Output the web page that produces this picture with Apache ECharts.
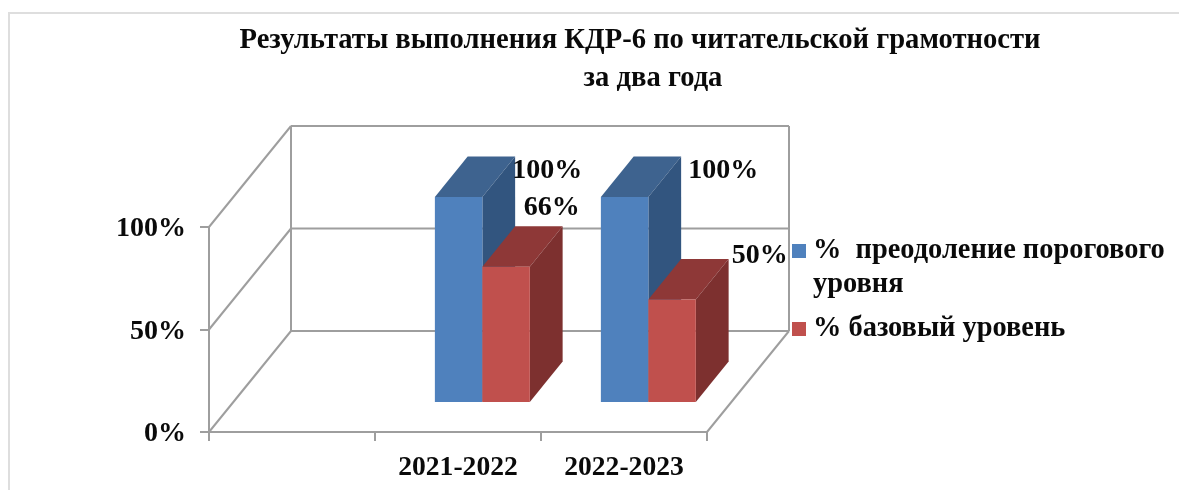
<!DOCTYPE html>
<html>
<head>
<meta charset="utf-8">
<style>html,body{margin:0;padding:0;background:#fff}#c{width:1179px;height:490px}</style>
<script src="https://cdn.jsdelivr.net/npm/echarts@6/dist/echarts.min.js"></script>
</head>
<body>
<div id="c"></div>
<script>
const titleLines = ['Результаты выполнения КДР-6 по читательской грамотности', 'за два года'];
const categories = ['', '2021-2022', '2022-2023'];
const seriesNames = ['%  преодоление порогового\nуровня', '% базовый уровень'];
const thresholdValues = [null, 100, 100];
const basicValues = [null, 66, 50];
const yTicks = [0, 50, 100];

// Presentation settings (not data)
const FONT = '"Liberation Serif","Times New Roman",serif';
const LABEL_SIZE = 28;
const GRID_COLOR = '#9e9e9e';
const WALL_DX = 82, WALL_DY = -101;
const BAR_POS = 0.297;       // bar's front face position along the floor depth
const BAR_DEPTH = 0.4;       // bar's depth as a share of the floor depth
const BAR_SHARE = 0.286;     // bar's width as a share of a category
const thresholdLabelShift = [null, [65, -26], [75, -26]];
const basicLabelShift = [null, [22, -59], [64, -44]];

function rows(values) { return categories.map((c, i) => [i, values[i] === null ? '-' : values[i]]); }

function wallItem(params, api) {
  const g = params.coordSys;
  const y = api.coord([0, api.value(1)])[1];
  const style = { stroke: GRID_COLOR, lineWidth: 2, fill: null };
  const line = (x1, y1, x2, y2) => ({ type: 'line', shape: { x1, y1, x2, y2 }, style });
  const left = g.x, right = g.x + g.width, v = api.value(1);
  const children = [
    line(left, y, left + WALL_DX, y + WALL_DY),
    line(left + WALL_DX, y + WALL_DY, right + WALL_DX, y + WALL_DY)
  ];
  if (v === yTicks[0]) {
    children.push(line(right, y, right + WALL_DX, y + WALL_DY));
    children.push(line(left + WALL_DX, y + WALL_DY, left + WALL_DX, y + WALL_DY - g.height));
    children.push(line(right + WALL_DX, y + WALL_DY, right + WALL_DX, y + WALL_DY - g.height));
  }
  return { type: 'group', children };
}

function barRenderer(slot, front, top, side, labelShift) {
  return function (params, api) {
    const value = api.value(1);
    if (isNaN(value)) return null;
    const idx = api.value(0);
    const w = api.size([1, 0])[0] * BAR_SHARE;
    const base = api.coord([idx, 0]);
    const peak = api.coord([idx, value]);
    const ox = WALL_DX * BAR_POS, oy = WALL_DY * BAR_POS;
    const dx = WALL_DX * BAR_DEPTH, dy = WALL_DY * BAR_DEPTH;
    const x0 = base[0] + ox + slot * w, x1 = x0 + w;
    const yb = base[1] + oy, yt = peak[1] + oy;
    const poly = (points, fill) => ({ type: 'polygon', shape: { points }, style: { fill } });
    const shift = labelShift[idx];
    return {
      type: 'group',
      children: [
        poly([[x0, yt], [x1, yt], [x1 + dx, yt + dy], [x0 + dx, yt + dy]], top),
        poly([[x1, yb], [x1 + dx, yb + dy], [x1 + dx, yt + dy], [x1, yt]], side),
        { type: 'rect', shape: { x: x0, y: yt, width: w, height: yb - yt }, style: { fill: front } },
        {
          type: 'text', x: x1 + shift[0], y: yt + shift[1],
          style: {
            text: value + '%', fill: '#0a0a0a', align: 'center', verticalAlign: 'middle',
            font: 'bold ' + LABEL_SIZE + 'px ' + FONT
          }
        }
      ]
    };
  };
}

const legendText = { fontFamily: FONT, fontWeight: 'bold', fontSize: 28.4, color: '#0a0a0a', lineHeight: 34, padding: [0, 0, 0, 2] };

const chart = echarts.init(document.getElementById('c'));
chart.setOption({
  animation: false,
  backgroundColor: '#ffffff',
  title: [
    { text: titleLines[0], left: 635, top: 21, textAlign: 'center',
      textStyle: { fontFamily: FONT, fontWeight: 'bold', fontSize: 28.6, color: '#0a0a0a' } },
    { text: titleLines[1], left: 648, top: 59, textAlign: 'center',
      textStyle: { fontFamily: FONT, fontWeight: 'bold', fontSize: 28.6, color: '#0a0a0a' } }
  ],
  grid: { left: 209, top: 227, width: 498, height: 205 },
  xAxis: {
    type: 'category', data: categories,
    axisLine: { lineStyle: { color: GRID_COLOR, width: 2 } },
    axisTick: { show: true, length: 9, lineStyle: { color: GRID_COLOR, width: 2 } },
    axisLabel: { margin: 22, fontFamily: FONT, fontWeight: 'bold', fontSize: 27.6, color: '#0a0a0a' },
    splitLine: { show: false }
  },
  yAxis: {
    type: 'value', min: 0, max: 100, interval: 50,
    axisLine: { show: true, lineStyle: { color: GRID_COLOR, width: 2 } },
    axisTick: { show: true, length: 9, lineStyle: { color: GRID_COLOR, width: 2 } },
    axisLabel: {
      margin: 23, formatter: '{a|{value}%}', color: '#0a0a0a',
      rich: { a: { fontFamily: FONT, fontWeight: 'bold', fontSize: LABEL_SIZE, color: '#0a0a0a', padding: [4, 0, 0, 0] } }
    },
    splitLine: { show: false }
  },
  legend: [
    { data: [{ name: seriesNames[0], icon: 'path://M0 0H14V14H0Z M0 48H0V48Z' }],
      left: 787, top: 229, itemWidth: 14, itemHeight: 48, itemGap: 0, selectedMode: false,
      textStyle: legendText },
    { data: [{ name: seriesNames[1], icon: 'rect' }],
      left: 787, top: 304, itemWidth: 14, itemHeight: 14, selectedMode: false,
      textStyle: Object.assign({}, legendText, { padding: [6, 0, 0, 2] }) }
  ],
  series: [
    { type: 'custom', name: 'walls', silent: true, z: 1, clip: false,
      renderItem: wallItem, data: yTicks.map(v => [0, v]), encode: { x: 0, y: 1 } },
    { type: 'custom', name: seriesNames[0], z: 2, clip: false,
      itemStyle: { color: '#4F81BD' },
      renderItem: barRenderer(-1, '#4F81BD', '#3E638F', '#32557F', thresholdLabelShift),
      data: rows(thresholdValues), encode: { x: 0, y: 1 } },
    { type: 'custom', name: seriesNames[1], z: 3, clip: false,
      itemStyle: { color: '#C0504D' },
      renderItem: barRenderer(0, '#C0504D', '#8E3837', '#7D302F', basicLabelShift),
      data: rows(basicValues), encode: { x: 0, y: 1 } }
  ],
  graphic: [
    { type: 'polyline', silent: true, z: 0,
      shape: { points: [[9, 490], [9, 13], [1179, 13]] },
      style: { stroke: '#dedede', lineWidth: 2, fill: null } }
  ]
});
</script>
</body>
</html>
